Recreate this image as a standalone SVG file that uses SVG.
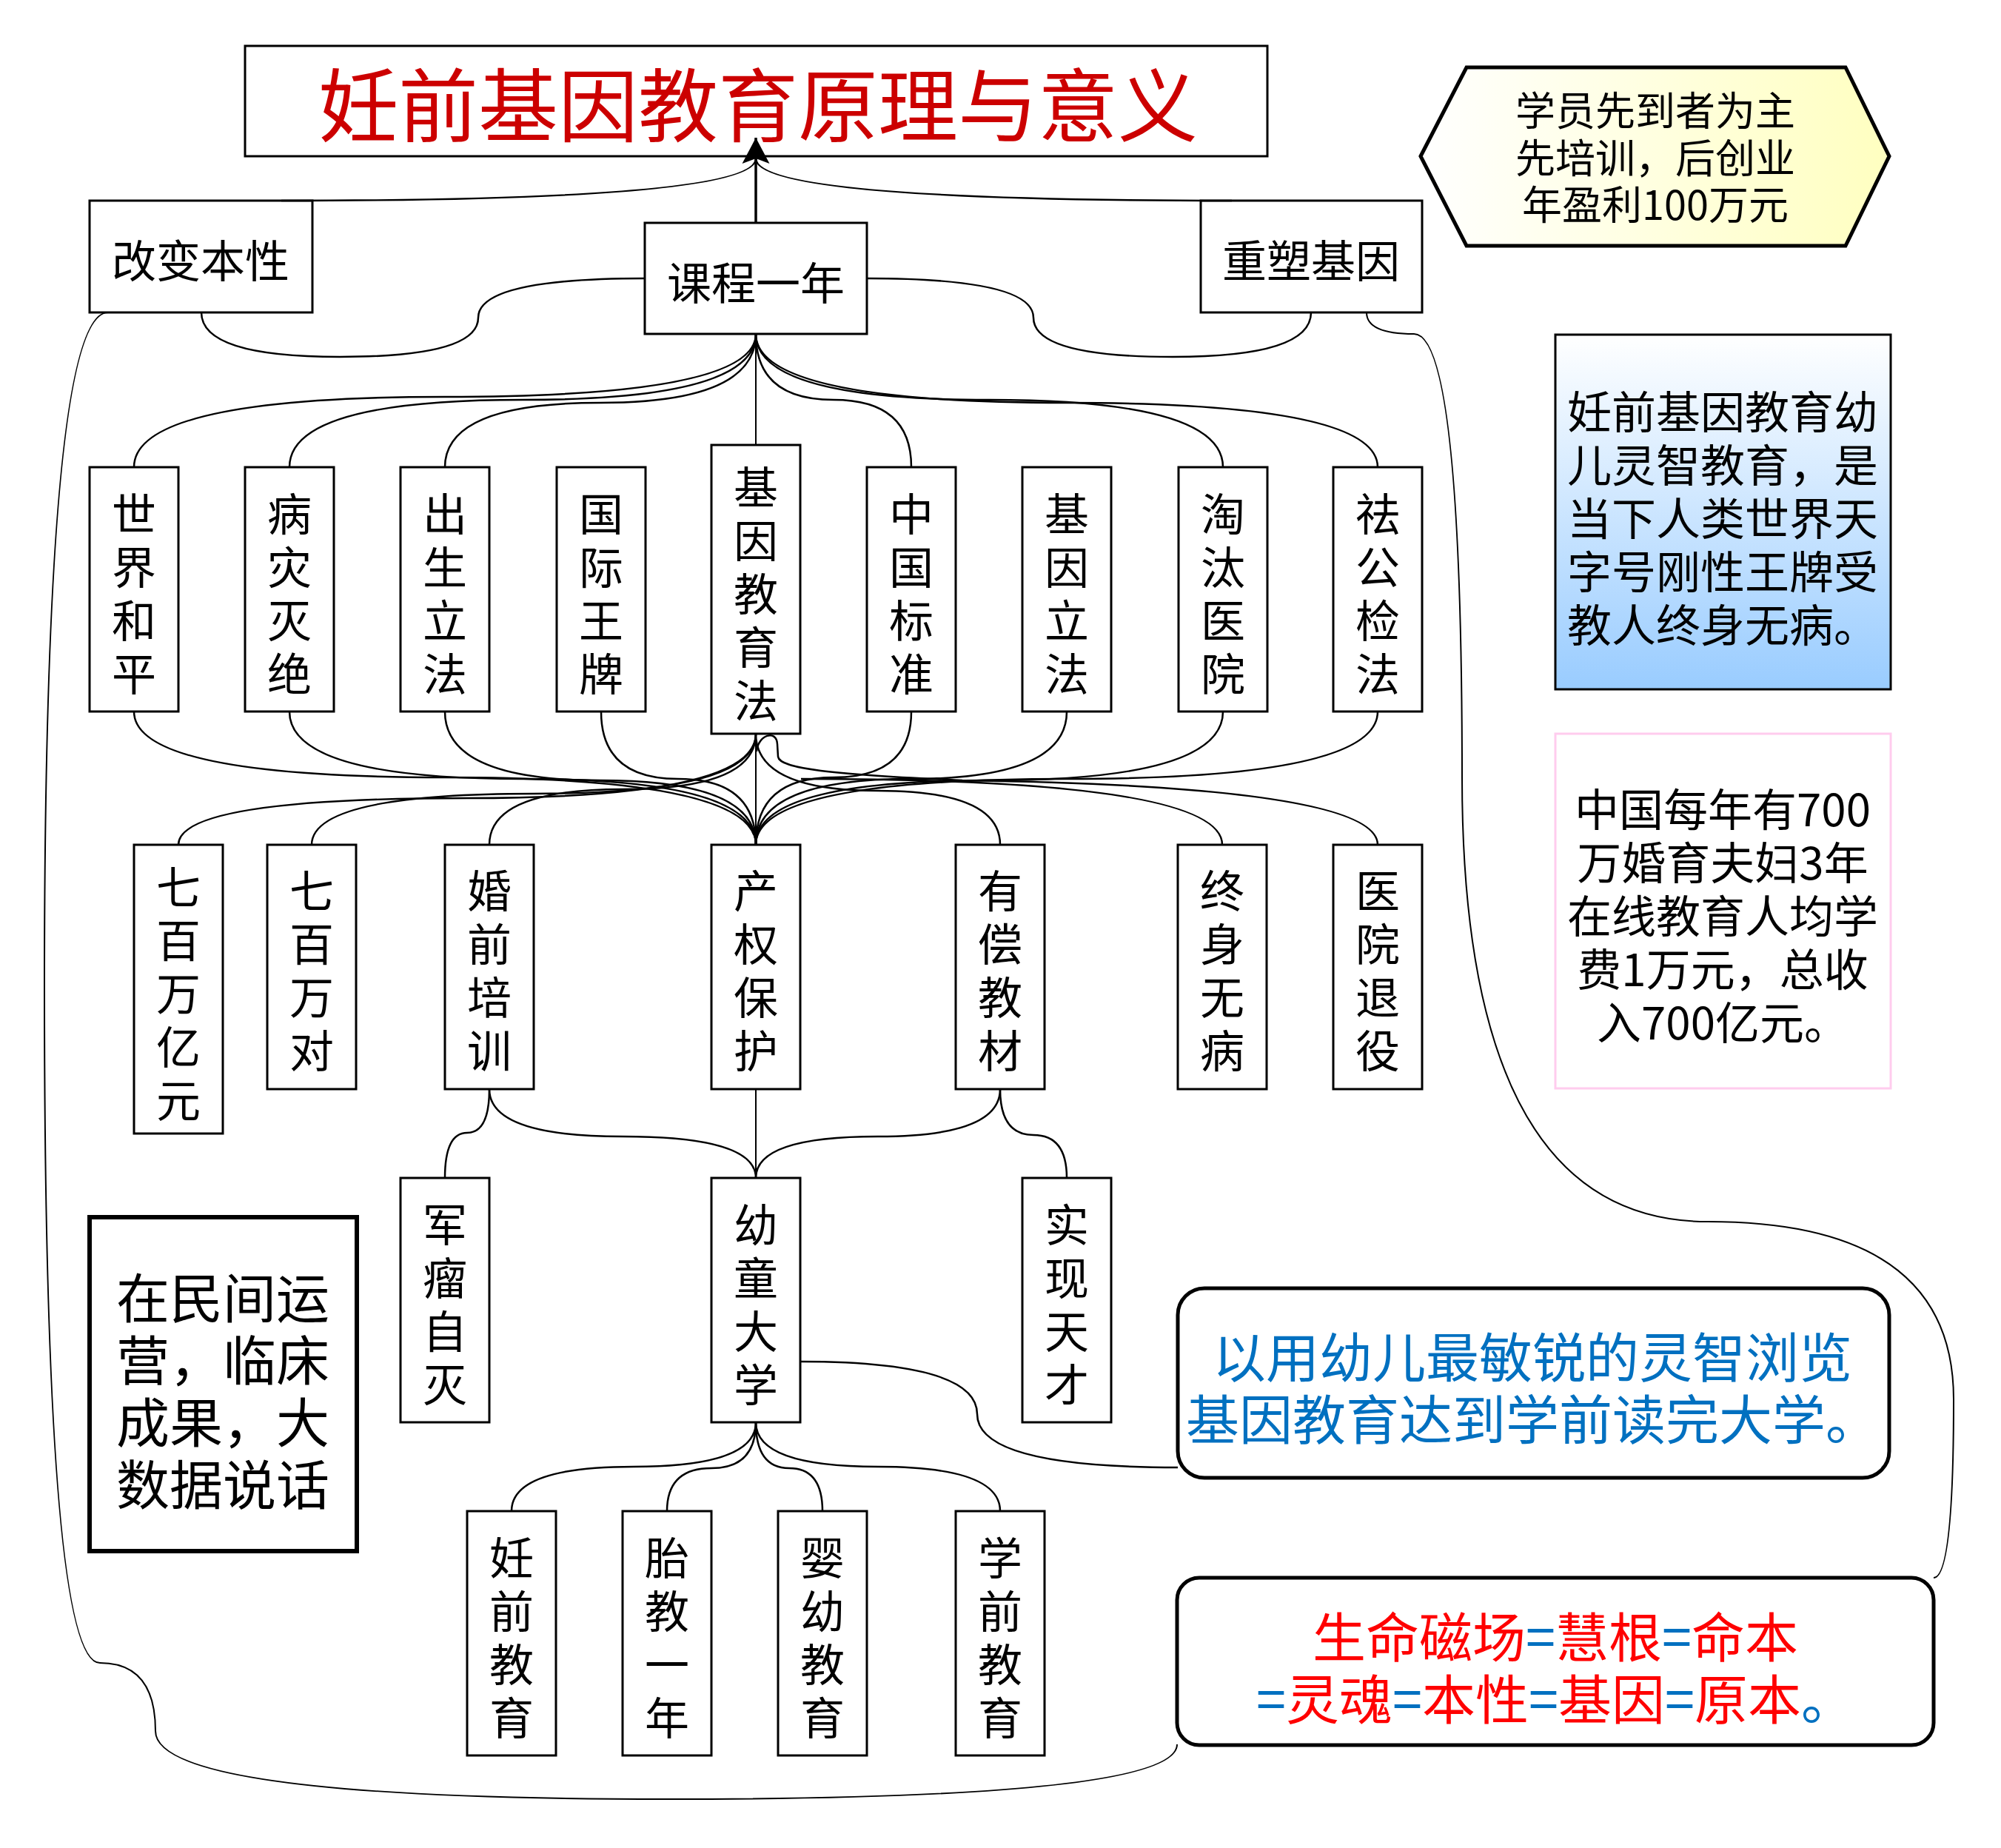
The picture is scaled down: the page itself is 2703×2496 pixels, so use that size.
<svg xmlns="http://www.w3.org/2000/svg" width="2703" height="2496" viewBox="0 0 2703 2496">
<style>
.box{fill:#fff;stroke:#000;stroke-width:3}
.t{font-family:"Noto Sans CJK SC","Noto Sans",sans-serif;text-anchor:middle;dominant-baseline:central;fill:#000}
.v{font-size:60px}
.e{fill:none;stroke:#000;stroke-width:2.5}
.s{fill:none;stroke:#000;stroke-width:2}
.r{fill:#FF0000}
.b{fill:#0070C0}
</style>
<defs>
<linearGradient id="gy" x1="0" y1="0" x2="1" y2="0"><stop offset="0" stop-color="#FFFFFF"/><stop offset="1" stop-color="#FFFFC0"/></linearGradient>
<linearGradient id="gb" x1="0" y1="0" x2="0" y2="1"><stop offset="0" stop-color="#FFFFFF"/><stop offset="1" stop-color="#99CCFF"/></linearGradient>
<marker id="arr" markerUnits="userSpaceOnUse" markerWidth="40" markerHeight="40" viewBox="0 0 40 40" refX="35" refY="20" orient="auto"><path d="M0,1.5 L35,20 L0,38.5 L7,20 Z" fill="#000"/></marker>
</defs>
<rect width="2703" height="2496" fill="#fff"/>

<g id="title">
<rect class="box" x="331" y="62" width="1381" height="149"/>
<text class="t" x="1024" y="136" font-size="108" style="fill:#CC0000">妊前基因教育原理与意义</text>
</g>

<g id="n-gaibian">
<rect class="box" x="121" y="271" width="301" height="151"/>
<text class="t" x="271" y="348" font-size="60">改变本性</text>
</g>
<g id="n-kecheng">
<rect class="box" x="871" y="301" width="300" height="150"/>
<text class="t" x="1021" y="378" font-size="60">课程一年</text>
</g>
<g id="n-chongsu">
<rect class="box" x="1622" y="271" width="299" height="151"/>
<text class="t" x="1771" y="348" font-size="60">重塑基因</text>
</g>

<g id="n-hex">
<polygon points="1919,211 1981,91 2493,91 2552,211 2493,332 1981,332" fill="url(#gy)" stroke="#000" stroke-width="5"/>
<text class="t" font-size="54"><tspan x="2236" y="146">学员先到者为主</tspan><tspan x="2236" y="210">先培训，后创业</tspan><tspan x="2236" y="273">年盈利100万元</tspan></text>
</g>

<g id="n-bluebox">
<rect x="2101" y="452" width="453" height="479" fill="url(#gb)" stroke="#000" stroke-width="3"/>
<text class="t" font-size="60"><tspan x="2327" y="552">妊前基因教育幼</tspan><tspan x="2327" y="624">儿灵智教育，是</tspan><tspan x="2327" y="696">当下人类世界天</tspan><tspan x="2327" y="768">字号刚性王牌受</tspan><tspan x="2327" y="840">教人终身无病。</tspan></text>
</g>

<g id="n-pinkbox">
<rect x="2101" y="991" width="453" height="479" fill="#fff" stroke="#FFCCEE" stroke-width="3"/>
<text class="t" font-size="60"><tspan x="2327" y="1089">中国每年有700</tspan><tspan x="2327" y="1161">万婚育夫妇3年</tspan><tspan x="2327" y="1233">在线教育人均学</tspan><tspan x="2327" y="1305">费1万元，总收</tspan><tspan x="2327" y="1377">入700亿元。</tspan></text>
</g>

<g id="row1">
<g id="n-shijie"><rect class="box" x="121" y="631" width="120" height="330"/><text class="t v"><tspan x="181" y="690">世</tspan><tspan x="181" y="762">界</tspan><tspan x="181" y="834">和</tspan><tspan x="181" y="906">平</tspan></text></g>
<g id="n-bingzai"><rect class="box" x="331" y="631" width="120" height="330"/><text class="t v"><tspan x="391" y="690">病</tspan><tspan x="391" y="762">灾</tspan><tspan x="391" y="834">灭</tspan><tspan x="391" y="906">绝</tspan></text></g>
<g id="n-chusheng"><rect class="box" x="541" y="631" width="120" height="330"/><text class="t v"><tspan x="601" y="690">出</tspan><tspan x="601" y="762">生</tspan><tspan x="601" y="834">立</tspan><tspan x="601" y="906">法</tspan></text></g>
<g id="n-guoji"><rect class="box" x="752" y="631" width="120" height="330"/><text class="t v"><tspan x="812" y="690">国</tspan><tspan x="812" y="762">际</tspan><tspan x="812" y="834">王</tspan><tspan x="812" y="906">牌</tspan></text></g>
<g id="n-jiyinjiaoyufa"><rect class="box" x="961" y="601" width="120" height="390"/><text class="t v"><tspan x="1021" y="654">基</tspan><tspan x="1021" y="726">因</tspan><tspan x="1021" y="798">教</tspan><tspan x="1021" y="870">育</tspan><tspan x="1021" y="942">法</tspan></text></g>
<g id="n-zhongguo"><rect class="box" x="1171" y="631" width="120" height="330"/><text class="t v"><tspan x="1231" y="690">中</tspan><tspan x="1231" y="762">国</tspan><tspan x="1231" y="834">标</tspan><tspan x="1231" y="906">准</tspan></text></g>
<g id="n-jiyinlifa"><rect class="box" x="1381" y="631" width="120" height="330"/><text class="t v"><tspan x="1441" y="690">基</tspan><tspan x="1441" y="762">因</tspan><tspan x="1441" y="834">立</tspan><tspan x="1441" y="906">法</tspan></text></g>
<g id="n-taotai"><rect class="box" x="1592" y="631" width="120" height="330"/><text class="t v"><tspan x="1652" y="690">淘</tspan><tspan x="1652" y="762">汰</tspan><tspan x="1652" y="834">医</tspan><tspan x="1652" y="906">院</tspan></text></g>
<g id="n-qugong"><rect class="box" x="1801" y="631" width="120" height="330"/><text class="t v"><tspan x="1861" y="690">祛</tspan><tspan x="1861" y="762">公</tspan><tspan x="1861" y="834">检</tspan><tspan x="1861" y="906">法</tspan></text></g>
</g>

<g id="row2">
<g id="n-qibaiwanyiyuan"><rect class="box" x="181" y="1141" width="120" height="390"/><text class="t v"><tspan x="241" y="1194">七</tspan><tspan x="241" y="1266">百</tspan><tspan x="241" y="1338">万</tspan><tspan x="241" y="1410">亿</tspan><tspan x="241" y="1482">元</tspan></text></g>
<g id="n-qibaiwandui"><rect class="box" x="361" y="1141" width="120" height="330"/><text class="t v"><tspan x="421" y="1199">七</tspan><tspan x="421" y="1271">百</tspan><tspan x="421" y="1343">万</tspan><tspan x="421" y="1415">对</tspan></text></g>
<g id="n-hunqian"><rect class="box" x="601" y="1141" width="120" height="330"/><text class="t v"><tspan x="661" y="1199">婚</tspan><tspan x="661" y="1271">前</tspan><tspan x="661" y="1343">培</tspan><tspan x="661" y="1415">训</tspan></text></g>
<g id="n-chanquan"><rect class="box" x="961" y="1141" width="120" height="330"/><text class="t v"><tspan x="1021" y="1199">产</tspan><tspan x="1021" y="1271">权</tspan><tspan x="1021" y="1343">保</tspan><tspan x="1021" y="1415">护</tspan></text></g>
<g id="n-youchang"><rect class="box" x="1291" y="1141" width="120" height="330"/><text class="t v"><tspan x="1351" y="1199">有</tspan><tspan x="1351" y="1271">偿</tspan><tspan x="1351" y="1343">教</tspan><tspan x="1351" y="1415">材</tspan></text></g>
<g id="n-zhongshen"><rect class="box" x="1591" y="1141" width="120" height="330"/><text class="t v"><tspan x="1651" y="1199">终</tspan><tspan x="1651" y="1271">身</tspan><tspan x="1651" y="1343">无</tspan><tspan x="1651" y="1415">病</tspan></text></g>
<g id="n-yiyuan"><rect class="box" x="1801" y="1141" width="120" height="330"/><text class="t v"><tspan x="1861" y="1199">医</tspan><tspan x="1861" y="1271">院</tspan><tspan x="1861" y="1343">退</tspan><tspan x="1861" y="1415">役</tspan></text></g>
</g>

<g id="row3">
<g id="n-junliu"><rect class="box" x="541" y="1591" width="120" height="330"/><text class="t v"><tspan x="601" y="1650">军</tspan><tspan x="601" y="1722">瘤</tspan><tspan x="601" y="1794">自</tspan><tspan x="601" y="1866">灭</tspan></text></g>
<g id="n-youtong"><rect class="box" x="961" y="1591" width="120" height="330"/><text class="t v"><tspan x="1021" y="1650">幼</tspan><tspan x="1021" y="1722">童</tspan><tspan x="1021" y="1794">大</tspan><tspan x="1021" y="1866">学</tspan></text></g>
<g id="n-shixian"><rect class="box" x="1381" y="1591" width="120" height="330"/><text class="t v"><tspan x="1441" y="1650">实</tspan><tspan x="1441" y="1722">现</tspan><tspan x="1441" y="1794">天</tspan><tspan x="1441" y="1866">才</tspan></text></g>
</g>

<g id="row4">
<g id="n-renqian"><rect class="box" x="631" y="2041" width="120" height="330"/><text class="t v"><tspan x="691" y="2100">妊</tspan><tspan x="691" y="2172">前</tspan><tspan x="691" y="2244">教</tspan><tspan x="691" y="2316">育</tspan></text></g>
<g id="n-taijiao"><rect class="box" x="841" y="2041" width="120" height="330"/><text class="t v"><tspan x="901" y="2100">胎</tspan><tspan x="901" y="2172">教</tspan><tspan x="901" y="2244">一</tspan><tspan x="901" y="2316">年</tspan></text></g>
<g id="n-yingyou"><rect class="box" x="1051" y="2041" width="120" height="330"/><text class="t v"><tspan x="1111" y="2100">婴</tspan><tspan x="1111" y="2172">幼</tspan><tspan x="1111" y="2244">教</tspan><tspan x="1111" y="2316">育</tspan></text></g>
<g id="n-xueqian"><rect class="box" x="1291" y="2041" width="120" height="330"/><text class="t v"><tspan x="1351" y="2100">学</tspan><tspan x="1351" y="2172">前</tspan><tspan x="1351" y="2244">教</tspan><tspan x="1351" y="2316">育</tspan></text></g>
</g>

<g id="n-minjian">
<rect x="121" y="1644" width="361" height="451" fill="#fff" stroke="#000" stroke-width="6"/>
<text class="t" font-size="72"><tspan x="301" y="1748">在民间运</tspan><tspan x="301" y="1832">营，临床</tspan><tspan x="301" y="1916">成果，大</tspan><tspan x="301" y="2000">数据说话</tspan></text>
</g>

<g id="n-lingzhi">
<rect x="1591" y="1740" width="961" height="256" rx="36" ry="36" fill="#fff" stroke="#000" stroke-width="5"/>
<text class="t b" font-size="72"><tspan x="2070" y="1828">以用幼儿最敏锐的灵智浏览</tspan><tspan x="2070" y="1912">基因教育达到学前读完大学。</tspan></text>
</g>

<g id="n-shengming">
<rect x="1590" y="2131" width="1022" height="226" rx="30" ry="30" fill="#fff" stroke="#000" stroke-width="5"/>
<text class="t" font-size="72"><tspan x="2101" y="2206"><tspan class="r">生命磁场</tspan><tspan class="b">=</tspan><tspan class="r">慧根</tspan><tspan class="b">=</tspan><tspan class="r">命本</tspan></tspan><tspan x="2101" y="2290"><tspan class="b">=</tspan><tspan class="r">灵魂</tspan><tspan class="b">=</tspan><tspan class="r">本性</tspan><tspan class="b">=</tspan><tspan class="r">基因</tspan><tspan class="b">=</tspan><tspan class="r">原本</tspan><tspan class="b">。</tspan></tspan></text>
</g>

<g id="connectors">
<path class="e" d="M380 271 Q1021 271 1021 214"/>
<path class="e" d="M1664 271 Q1021 271 1021 214"/>
<path d="M1021 301 L1021 186" fill="none" stroke="#000" stroke-width="3.5" marker-end="url(#arr)"/>
<path class="e" d="M871 376 Q646 376 646 429 Q646 482 459 482 Q272 482 272 422"/>
<path class="e" d="M1171 376 Q1396 376 1396 429 Q1396 482 1584 482 Q1771 482 1771 422"/>
<path class="e" d="M1021 451 Q1021 536 601 536 Q181 536 181 631"/>
<path class="e" d="M1021 451 Q1021 540 706 540 Q391 540 391 631"/>
<path class="e" d="M1021 451 Q1021 544 811 544 Q601 544 601 631"/>
<path class="s" d="M1021 451 L1021 601"/>
<path class="e" d="M1021 451 Q1021 540 1126 540 Q1231 540 1231 631"/>
<path class="e" d="M1021 451 Q1021 540 1336 540 Q1652 540 1652 631"/>
<path class="e" d="M1021 451 Q1021 544 1441 544 Q1861 544 1861 631"/>
<path class="e" d="M181 961 Q181 1050 601 1050 Q1021 1050 1021 1141"/>
<path class="e" d="M391 961 Q391 1052 706 1052 Q1021 1052 1021 1141"/>
<path class="e" d="M601 961 Q601 1054 811 1054 Q1021 1054 1021 1141"/>
<path class="e" d="M812 961 Q812 1052 916 1052 Q1021 1052 1021 1141"/>
<path class="e" d="M1231 961 Q1231 1050 1126 1050 Q1021 1050 1021 1141"/>
<path class="e" d="M1441 961 Q1441 1052 1231 1052 Q1021 1052 1021 1141"/>
<path class="e" d="M1652 961 Q1652 1054 1336 1054 Q1021 1054 1021 1141"/>
<path class="e" d="M1861 961 Q1861 1052 1441 1052 Q1021 1052 1021 1141"/>
<path class="s" d="M1021 991 L1021 1141"/>
<path class="e" d="M1021 991 Q1021 1078 631 1078 Q241 1078 241 1141"/>
<path class="e" d="M1021 991 Q1021 1072 721 1072 Q421 1072 421 1141"/>
<path class="e" d="M1021 991 Q1021 1066 841 1066 Q661 1066 661 1141"/>
<path class="e" d="M1021 991 Q1021 1068 1186 1068 Q1351 1068 1351 1141"/>
<path class="e" d="M1082 1052 Q1651 1052 1651 1141"/>
<path class="e" d="M1022 1015 C1024 992 1049 985 1050 1005 L1051 1022 C1053 1038 1120 1046 1300 1054 Q1861 1062 1861 1141"/>
<path class="e" d="M661 1471 Q661 1530 631 1530 Q601 1530 601 1591"/>
<path class="e" d="M661 1471 Q661 1535 841 1535 Q1021 1535 1021 1591"/>
<path class="s" d="M1021 1471 L1021 1591"/>
<path class="e" d="M1351 1471 Q1351 1535 1186 1535 Q1021 1535 1021 1591"/>
<path class="e" d="M1351 1471 Q1351 1533 1396 1533 Q1441 1533 1441 1591"/>
<path class="e" d="M1021 1921 Q1021 1981 856 1981 Q691 1981 691 2041"/>
<path class="e" d="M1021 1921 Q1021 1983 961 1983 Q901 1983 901 2041"/>
<path class="e" d="M1021 1921 Q1021 1983 1066 1983 Q1111 1983 1111 2041"/>
<path class="e" d="M1021 1921 Q1021 1981 1186 1981 Q1351 1981 1351 2041"/>
<path class="e" d="M1081 1839 Q1320 1839 1320 1910 Q1320 1982 1591 1982"/>
<path class="s" d="M146 422 Q60 422 60 1334 Q60 2246 135 2246 Q210 2246 210 2338 Q210 2430 900 2430 Q1590 2430 1590 2356"/>
<path class="s" d="M1846 422 Q1846 451 1910 451 Q1975 451 1975 1050 Q1975 1650 2307 1650 Q2639 1650 2639 1890 Q2639 2131 2612 2131"/>
</g>
</svg>
